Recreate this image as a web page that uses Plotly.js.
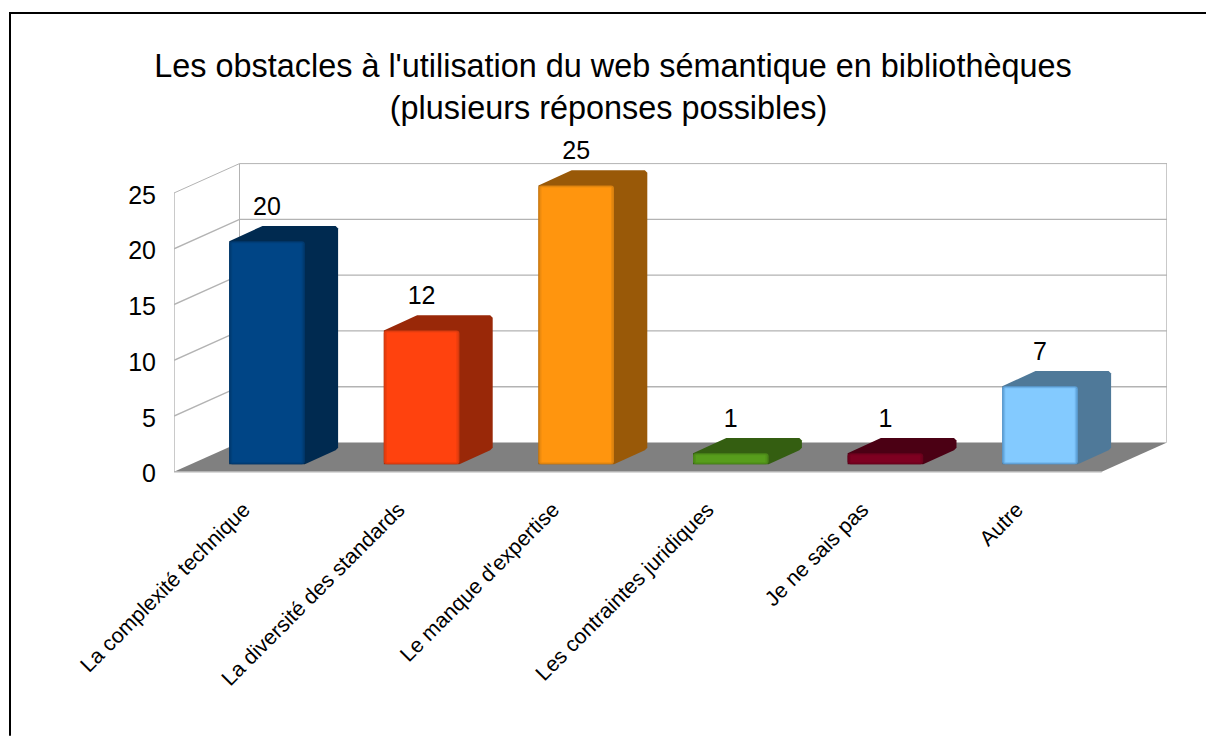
<!DOCTYPE html>
<html><head><meta charset="utf-8">
<script src="https://cdn.plot.ly/plotly-3.0.1.min.js"></script>
<style>html,body{margin:0;padding:0;background:#fff;overflow:hidden}#chart{width:1206px;height:736px}</style>
</head><body><div id="chart"></div>
<script>
const categories = ["La complexité technique","La diversité des standards","Le manque d'expertise","Les contraintes juridiques","Je ne sais pas","Autre"];
const values = [20,12,25,1,1,7];
const faceColors = ["#004586","#ff420e","#ff950e","#579d1c","#7e0021","#83caff"];
const edgeColors = ["#003a70","#d93a0e","#d9800f","#4a8618","#6b001c","#5c9fd6"];
const sideColors = ["#002a50","#992808","#995908","#345e11","#4b0014","#4f7999"];
const yTicks = [0,5,10,15,20,25];
const titleText = "Les obstacles à l'utilisation du web sémantique en bibliothèques<br>(plusieurs réponses possibles)&nbsp;";

const W=1206,H=736,L=174,R=1167,T=163,B0=472;
const pxX=154.6, pxY=11.16;
const yMin=-1, B=B0-yMin*pxY;
const xMin=(L-267)/pxX, xMax=(R-267)/pxX, yMax=(B0-T)/pxY;
const wallDx=65.5/pxX, wallDy=29.4/pxY, floorW=927.7/pxX;
const barW=75.6/pxX, barDx=33.3/pxX, barDy=15.3/pxY, baseY=7.5/pxY;
const cx=2.5/pxX, cy=2.5/pxY;
const grid="#b3b3b3";
const font="'Liberation Sans', Arial, sans-serif";
const traces=[];
const lineTrace=(x,y,c,w)=>({type:"scatter",mode:"lines",x,y,line:{color:c,width:w},hoverinfo:"skip",showlegend:false,cliponaxis:false});

// floor
traces.push({type:"scatter",mode:"lines",x:[xMin,xMin+floorW,xMin+floorW+wallDx,xMin+wallDx,xMin],y:[0,0,wallDy,wallDy,0],
  fill:"toself",fillcolor:"#808080",line:{color:"#808080",width:0},hoverinfo:"skip",showlegend:false,cliponaxis:false});
traces.push(lineTrace([xMin,xMin+floorW],[0,0],grid,1.5));
// walls
yTicks.slice(1).forEach(v=>{
  traces.push(lineTrace([xMin,xMin+wallDx,xMax],[v,v+wallDy,v+wallDy],grid,v===25?1:1.4));
});
traces.push(lineTrace([xMin,xMin],[0,25],grid,1.4));
traces.push(lineTrace([xMin+wallDx,xMin+wallDx],[wallDy,25+wallDy],grid,1));
traces.push(lineTrace([xMax,xMax],[wallDy,25+wallDy],grid,1.4));

// side and top faces (lower subplot so they stay under the front faces)
values.forEach((v,i)=>{
  const l=i-barW/2,r=i+barW/2,b=baseY,t=baseY+v;
  traces.push({type:"scatter",mode:"lines",hoverinfo:"skip",showlegend:false,cliponaxis:false,
    x:[l,l+barDx-cx,l+barDx,r+barDx-cx,r+barDx,r+barDx,r+barDx-cx,r,l],
    y:[t,t+barDy-cy/2,t+barDy,t+barDy,t+barDy-cy,b+barDy+cy/2,b+barDy-cy/2,b,b],
    fill:"toself",fillcolor:sideColors[i],line:{color:sideColors[i],width:0}});
});
const over={xaxis:"x2",yaxis:"y2",hoverinfo:"skip",showlegend:false,cliponaxis:false};
// front faces: layered bars give the soft bevel
const idx=values.map((_,i)=>i);
[[0,0,edgeColors,3],[1.5,1.0,null,2],[3,2,faceColors,0]].forEach(([insetX,insetY,cols,rad])=>{
  const ix=insetX/pxX, iy=insetY/pxY;
  const colors=cols||faceColors.map((c,i)=>{
    const m=s=>parseInt(s,16);
    const a=faceColors[i],e=edgeColors[i];
    const mix=p=>Math.round((m(a.substr(p,2))+m(e.substr(p,2)))/2);
    return "rgb("+mix(1)+","+mix(3)+","+mix(5)+")";
  });
  traces.push(Object.assign({type:"bar",x:idx,y:values.map(v=>v-2*iy),base:values.map(()=>baseY+iy),
    width:barW-2*ix,marker:{color:colors,line:{width:0},cornerradius:rad}},over));
});
// value labels
traces.push(Object.assign({type:"scatter",mode:"text",x:idx,y:values.map(v=>v+baseY+barDy+4.5/pxY),text:values.map(String),
  textposition:"top center",textfont:{family:font,size:25,color:"#000"}},over));

const fx=p=>(p-L)/(R-L), fy=p=>(B-p)/(B-T);
const layout={
  width:W,height:H,margin:{l:L,r:W-R,t:T,b:H-B,pad:0},
  paper_bgcolor:"#fff",plot_bgcolor:"rgba(0,0,0,0)",showlegend:false,barmode:"overlay",
  title:{text:titleText,x:613/W,xanchor:"center",y:1-77/H,yanchor:"top",yref:"container",font:{family:font,size:32.4,color:"#000"}},
  xaxis:{range:[xMin,xMax],tickmode:"array",tickvals:idx.map(i=>i-0.15),ticktext:categories,tickangle:-45,ticklabelstandoff:9,
    showgrid:false,zeroline:false,showline:false,ticks:"",tickfont:{family:font,size:21.3,color:"#000"},fixedrange:true},
  yaxis:{range:[yMin,yMax],tickmode:"array",tickvals:yTicks.map(v=>v-0.17),ticktext:yTicks.map(String),showgrid:false,zeroline:false,showline:false,ticks:"",
    ticklabelstandoff:17,tickfont:{family:font,size:25,color:"#000"},fixedrange:true},
  xaxis2:{range:[xMin,xMax],overlaying:"x",visible:false,fixedrange:true},
  yaxis2:{range:[yMin,yMax],overlaying:"y",visible:false,fixedrange:true},
  shapes:[
    {type:"line",xref:"paper",yref:"paper",x0:fx(10),x1:fx(10),y0:fy(13),y1:fy(736),line:{color:"#000",width:2}},
    {type:"line",xref:"paper",yref:"paper",x0:fx(9),x1:fx(1206),y0:fy(13),y1:fy(13),line:{color:"#000",width:2}}
  ]
};
Plotly.newPlot("chart",traces,layout,{displayModeBar:false,responsive:false});
</script></body></html>
